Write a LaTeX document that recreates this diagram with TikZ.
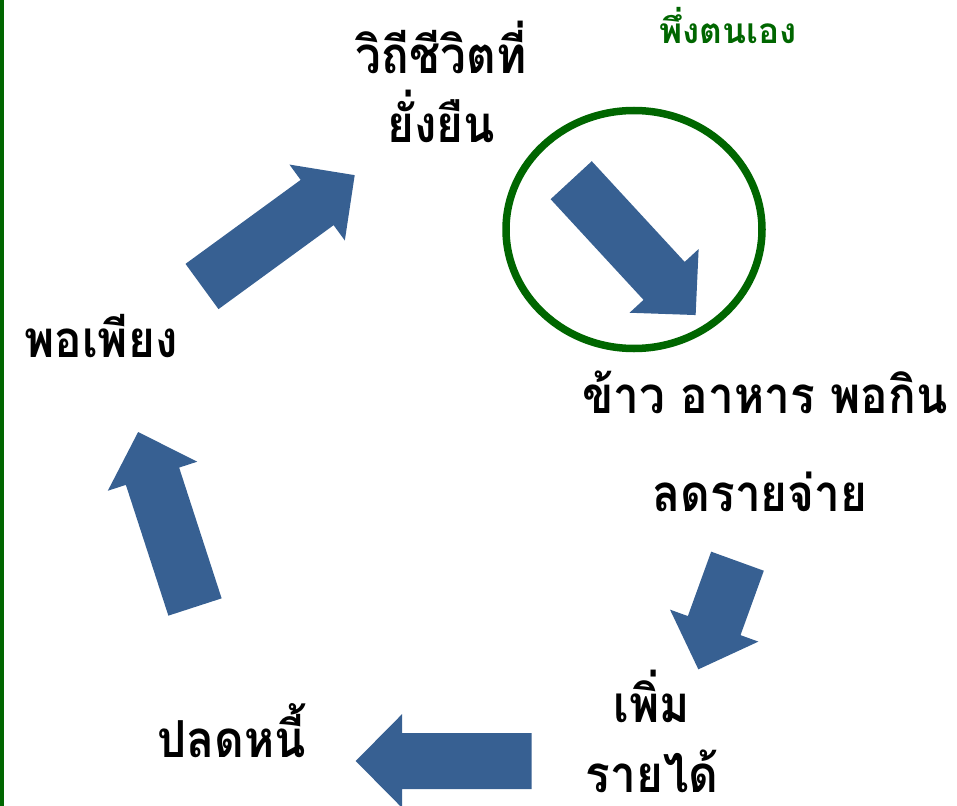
\documentclass[tikz,border=0pt]{standalone}
\usepackage{fontspec}
\newfontfamily\thaifont[Script=Thai, FakeStretch=0.9]{Loma}
\newfontfamily\thaiwide[Script=Thai]{Loma}
\definecolor{arrowblue}{RGB}{55,96,146}
\definecolor{selfgreen}{RGB}{0,102,0}
\tikzset{
  steplabel/.style={font=\thaifont\bfseries\fontsize{14.5pt}{19.9pt}\selectfont, inner sep=0pt, anchor=base, align=center},
  greenlabel/.style={font=\thaiwide\bfseries\fontsize{10pt}{12pt}\selectfont, text=selfgreen, inner sep=0pt, anchor=base}
}
\begin{document}
\begin{tikzpicture}[x=0.01cm, y=-0.01cm]
	\useasboundingbox (0,0) rectangle (957,806);
	\draw[selfgreen, line width=0.045cm] (2,0) -- (2,806);

	% labels round the cycle (two-line labels sit on their last baseline)
	\node[steplabel] (wayoflife) at (441,143) {วิถีชีวิตที่\\ยั่งยืน};
	\node[greenlabel] (selfreliant) at (728,43) {พึ่งตนเอง};
	\node[steplabel] (food) at (765,413) {ข้าว อาหาร พอกิน};
	\node[steplabel] (spending) at (760,511) {ลดรายจ่าย};
	\node[steplabel] (income) at (652,792) {เพิ่ม\\รายได้};
	\node[steplabel] (debt) at (232,757) {ปลดหนี้};
	\node[steplabel] (enough) at (101,357) {พอเพียง};

	% block arrows: tail x / tail y / angle / length
	\foreach \tx/\ty/\ang/\len in {202/286.5/36.1/189, 571.2/180.2/-47.3/183.5, 737.5/561.2/250.1/115, 531.7/761/180/176, 195/607/108/184}{
		\fill[arrowblue, shift={(\tx,\ty)}, rotate=\ang]
			(0,-28) -- ({\len-46.5},-28) -- ({\len-46.5},-47) -- (\len,0)
			-- ({\len-46.5},47) -- ({\len-46.5},28) -- (0,28) -- cycle;
	}

	\draw[selfgreen, line width=0.075cm] (634,229.5) ellipse [x radius=128, y radius=119];
\end{tikzpicture}
\end{document}
